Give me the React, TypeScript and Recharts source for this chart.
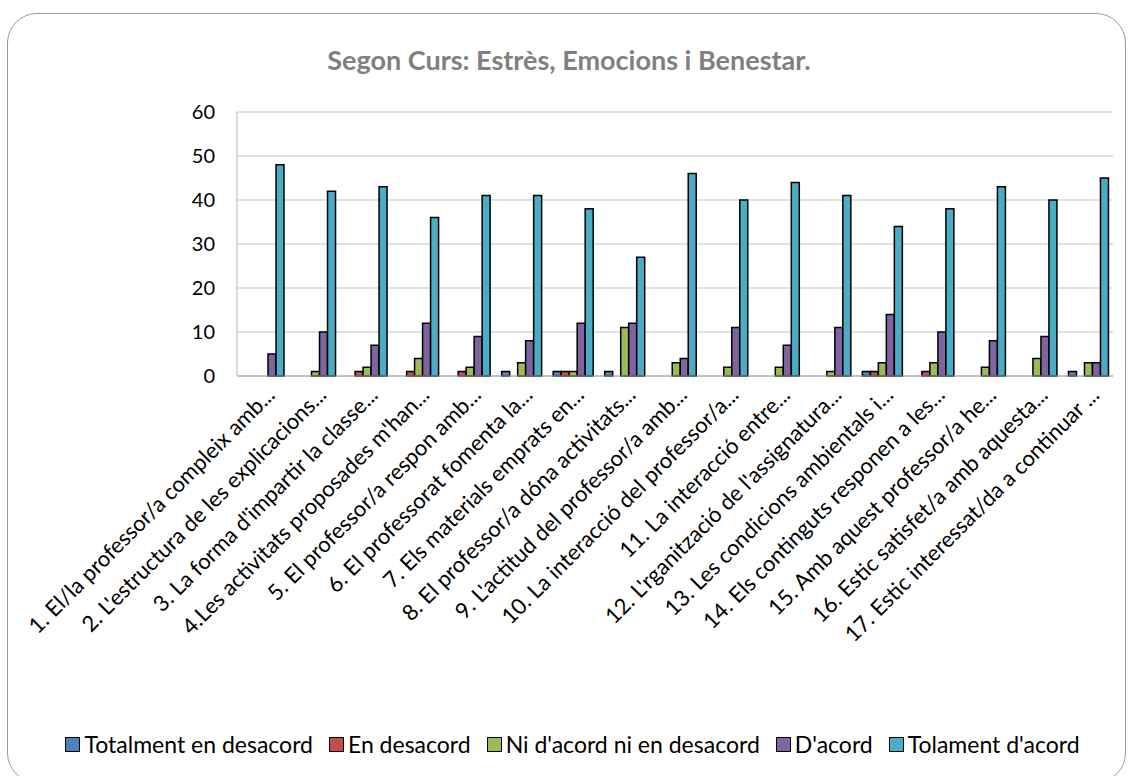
import { BarChart, Bar, XAxis, YAxis, CartesianGrid, Legend } from "recharts";

const categories = [
  "1. El/la professor/a compleix amb...",
  "2. L'estructura de les explicacions...",
  "3. La forma d'impartir la classe...",
  "4.Les activitats proposades m'han...",
  "5. El professor/a respon amb...",
  "6. El professorat fomenta la...",
  "7. Els materials emprats en...",
  "8. El professor/a dóna activitats...",
  "9. L'actitud del professor/a amb...",
  "10. La interacció del professor/a...",
  "11. La interacció entre...",
  "12. L'rganització de l'assignatura...",
  "13. Les condicions ambientals i...",
  "14. Els continguts responen a les...",
  "15. Amb aquest professor/a he...",
  "16. Estic satisfet/a amb aquesta...",
  "17. Estic interessat/da a continuar ...",
];

const totalmentDesacord = [0, 0, 0, 0, 0, 1, 1, 1, 0, 0, 0, 0, 1, 0, 0, 0, 1];
const enDesacord = [0, 0, 1, 1, 1, 0, 1, 0, 0, 0, 0, 0, 1, 1, 0, 0, 0];
const niAcord = [0, 1, 2, 4, 2, 3, 1, 11, 3, 2, 2, 1, 3, 3, 2, 4, 3];
const dAcord = [5, 10, 7, 12, 9, 8, 12, 12, 4, 11, 7, 11, 14, 10, 8, 9, 3];
const totalmentAcord = [48, 42, 43, 36, 41, 41, 38, 27, 46, 40, 44, 41, 34, 38, 43, 40, 45];

const yTicks = [0, 10, 20, 30, 40, 50, 60];

const series = [
  { key: "t1", name: "Totalment en desacord", color: "#4F81BD" },
  { key: "t2", name: "En desacord", color: "#C0504D" },
  { key: "t3", name: "Ni d'acord ni en desacord", color: "#9BBB59" },
  { key: "t4", name: "D'acord", color: "#8064A2" },
  { key: "t5", name: "Tolament d'acord", color: "#4BACC6" },
];

const data = categories.map((c, i) => ({
  name: c,
  t1: totalmentDesacord[i],
  t2: enDesacord[i],
  t3: niAcord[i],
  t4: dAcord[i],
  t5: totalmentAcord[i],
}));

const FONT = "Lato, 'Open Sans', sans-serif";

const XTick = (props: any) => {
  const { x, y, payload } = props;
  return (
    <g transform={`translate(${x + 8},${y + 7})`}>
      <text
        textAnchor="end"
        transform="rotate(-45)"
        dy="0.35em"
        fontSize={22}
        fontFamily={FONT}
        fill="#000"
      >
        {payload.value}
      </text>
    </g>
  );
};

const YTick = (props: any) => {
  const { x, y, payload } = props;
  return (
    <text x={x} y={y} dy="0.35em" textAnchor="end" fontSize={20} fontFamily={FONT} fill="#000">
      {payload.value}
    </text>
  );
};

const LegendContent = () => (
  <div
    style={{
      display: "flex",
      justifyContent: "center",
      paddingLeft: 30,
      fontFamily: FONT,
      fontSize: 23,
      color: "#000",
    }}
  >
    {series.map((s) => (
      <div key={s.key} style={{ display: "flex", alignItems: "center", marginRight: 16 }}>
        <span
          style={{
            display: "inline-block",
            width: 13,
            height: 13,
            background: s.color,
            border: "1.5px solid #000",
            marginRight: 4,
          }}
        />
        <span>{s.name}</span>
      </div>
    ))}
  </div>
);

export default function App() {
  return (
    <div style={{ position: "fixed", left: 0, top: 0, width: 1131, height: 776, background: "#fff" }}>
      <div
        style={{
          position: "absolute",
          left: 7,
          top: 13,
          width: 1119,
          height: 770,
          border: "1px solid #9a9a9a",
          borderRadius: 30,
          boxSizing: "border-box",
        }}
      />
      <div
        style={{
          position: "absolute",
          left: 0,
          top: 43,
          width: 1138,
          textAlign: "center",
          fontFamily: FONT,
          fontWeight: 700,
          fontSize: 27,
          color: "#808080",
        }}
      >
        Segon Curs: Estrès, Emocions i Benestar.
      </div>
      <BarChart
        width={1131}
        height={776}
        data={data}
        margin={{ top: 112, right: 18, left: 0, bottom: 16 }}
        barCategoryGap={7}
        barGap={0}
        style={{ position: "absolute", left: 0, top: 0 }}
      >
        <CartesianGrid vertical={false} stroke="#c4c4c4" strokeWidth={1.2} />
        <XAxis
          dataKey="name"
          interval={0}
          height={354}
          tick={<XTick />}
          tickLine={false}
          axisLine={{ stroke: "#a6a6a6", strokeWidth: 1.2 }}
        />
        <YAxis
          width={237}
          domain={[0, 60]}
          ticks={yTicks}
          tick={<YTick />}
          tickLine={false}
          tickSize={0}
          tickMargin={22}
          axisLine={{ stroke: "#c4c4c4", strokeWidth: 1.2 }}
        />
        <Legend
          verticalAlign="bottom"
          height={30}
          content={<LegendContent />}
          wrapperStyle={{ left: 0, width: 1131 }}
        />
        {series.map((s) => (
          <Bar
            key={s.key}
            dataKey={s.key}
            name={s.name}
            fill={s.color}
            stroke="#000"
            strokeWidth={1.5}
            isAnimationActive={false}
          />
        ))}
      </BarChart>
    </div>
  );
}
